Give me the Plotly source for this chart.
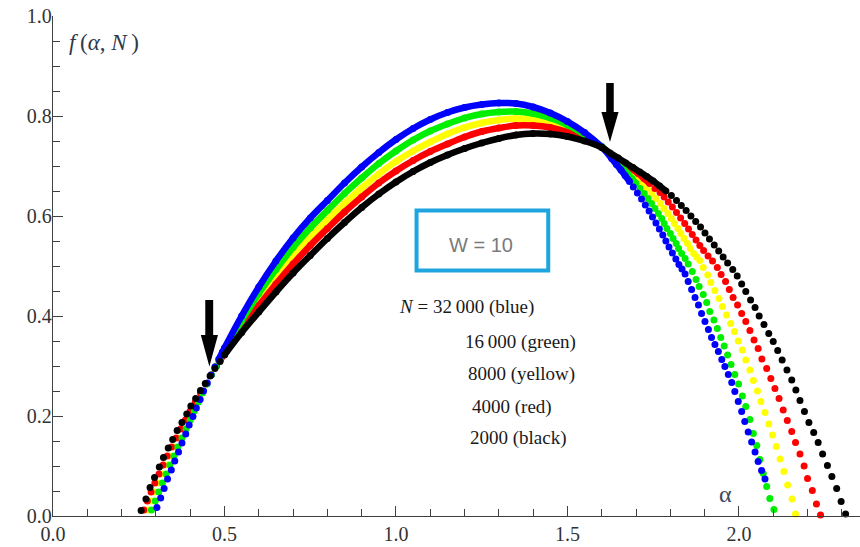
import plotly.graph_objects as go

# (alpha, f) points, one list per system size N
pts_black = [(0.257,0.011),(0.271,0.034),(0.283,0.057),(0.296,0.077),(0.310,0.098),(0.322,0.117),(0.336,0.136),(0.349,0.153),(0.362,0.171),(0.376,0.187),(0.390,0.204),(0.402,0.220),(0.416,0.235),(0.430,0.251),(0.444,0.265),(0.458,0.280),(0.472,0.295),(0.487,0.309),
    (0.50,0.322),(0.55,0.367),(0.60,0.408),(0.65,0.448),(0.70,0.486),(0.75,0.521),(0.80,0.555),(0.85,0.587),(0.90,0.617),(0.95,0.644),(1.00,0.668),(1.05,0.689),(1.10,0.707),(1.15,0.722),(1.20,0.735),(1.25,0.746),(1.30,0.755),(1.35,0.762),(1.40,0.765),(1.45,0.764),(1.50,0.759),(1.55,0.750),(1.60,0.737),
    (1.624,0.726),(1.648,0.716),(1.670,0.706),(1.691,0.697),(1.711,0.688),(1.731,0.679),(1.750,0.670),(1.769,0.660),(1.787,0.650),(1.803,0.641),(1.818,0.631),(1.832,0.621),(1.846,0.611),(1.860,0.600),(1.874,0.589),(1.888,0.578),(1.901,0.566),(1.914,0.554),(1.928,0.542),(1.941,0.530),(1.954,0.518),(1.967,0.506),(1.982,0.493),(1.995,0.480),(2.008,0.464),(2.020,0.449),(2.034,0.432),(2.047,0.417),(2.059,0.400),(2.073,0.383),(2.087,0.365),(2.100,0.349),(2.113,0.331),(2.126,0.312),(2.140,0.292),(2.154,0.272),(2.166,0.252),(2.178,0.231),(2.191,0.209),(2.204,0.187),(2.218,0.167),(2.231,0.147),(2.244,0.124),(2.258,0.101),(2.271,0.079),(2.285,0.055),(2.298,0.029),(2.311,0.004)]

pts_red = [(0.265,0.012),(0.275,0.030),(0.286,0.048),(0.297,0.066),(0.309,0.084),(0.321,0.102),(0.333,0.120),(0.346,0.138),(0.359,0.156),(0.372,0.174),(0.386,0.192),(0.400,0.210),(0.415,0.228),(0.430,0.246),(0.446,0.264),(0.461,0.282),(0.477,0.300),(0.489,0.313),
    (0.50,0.326),(0.55,0.376),(0.60,0.421),(0.65,0.464),(0.70,0.504),(0.75,0.541),(0.80,0.575),(0.85,0.608),(0.90,0.638),(0.95,0.666),(1.00,0.690),(1.05,0.711),(1.10,0.729),(1.15,0.744),(1.20,0.758),(1.25,0.769),(1.30,0.776),(1.35,0.781),(1.40,0.781),(1.45,0.777),(1.50,0.768),(1.55,0.755),(1.60,0.738),
    (1.623,0.725),(1.642,0.715),(1.663,0.705),(1.685,0.695),(1.706,0.685),(1.723,0.675),(1.740,0.665),(1.755,0.655),(1.770,0.647),(1.782,0.638),(1.794,0.628),(1.806,0.618),(1.818,0.607),(1.830,0.596),(1.842,0.585),(1.853,0.574),(1.864,0.563),(1.875,0.552),(1.886,0.541),(1.897,0.531),(1.910,0.520),(1.923,0.510),(1.937,0.497),(1.948,0.483),(1.961,0.469),(1.972,0.453),(1.983,0.437),(1.996,0.422),(2.008,0.405),(2.020,0.389),(2.032,0.371),(2.044,0.352),(2.056,0.335),(2.067,0.314),(2.081,0.295),(2.093,0.275),(2.105,0.255),(2.117,0.235),(2.129,0.212),(2.141,0.191),(2.154,0.169),(2.165,0.147),(2.178,0.124),(2.190,0.100),(2.200,0.075),(2.214,0.051),(2.226,0.024),(2.238,0.002)]

pts_yellow = [(0.276,0.012),(0.286,0.030),(0.296,0.048),(0.307,0.066),(0.318,0.084),(0.330,0.102),(0.341,0.120),(0.353,0.138),(0.366,0.156),(0.378,0.174),(0.391,0.192),(0.404,0.210),(0.418,0.228),(0.432,0.246),(0.446,0.264),(0.461,0.282),(0.475,0.299),(0.488,0.314),
    (0.50,0.329),(0.55,0.383),(0.60,0.432),(0.65,0.478),(0.70,0.520),(0.75,0.557),(0.80,0.592),(0.85,0.625),(0.90,0.656),(0.95,0.684),(1.00,0.709),(1.05,0.730),(1.10,0.748),(1.15,0.764),(1.20,0.777),(1.25,0.786),(1.30,0.792),(1.35,0.795),(1.40,0.793),(1.45,0.786),(1.50,0.775),(1.55,0.759),(1.60,0.739),
    (1.622,0.725),(1.637,0.715),(1.654,0.705),(1.673,0.695),(1.690,0.685),(1.705,0.675),(1.720,0.665),(1.733,0.655),(1.746,0.645),(1.758,0.635),(1.771,0.625),(1.781,0.615),(1.793,0.605),(1.803,0.595),(1.812,0.585),(1.822,0.575),(1.831,0.565),(1.840,0.555),(1.850,0.545),(1.858,0.535),(1.868,0.525),(1.877,0.518),(1.886,0.511),(1.896,0.497),(1.909,0.482),(1.918,0.467),(1.930,0.451),(1.942,0.435),(1.952,0.419),(1.964,0.402),(1.976,0.385),(1.987,0.369),(1.998,0.350),(2.010,0.332),(2.020,0.312),(2.032,0.292),(2.042,0.271),(2.054,0.250),(2.064,0.229),(2.076,0.207),(2.087,0.184),(2.098,0.162),(2.109,0.139),(2.120,0.114),(2.131,0.089),(2.142,0.062),(2.155,0.034),(2.165,0.004)]

pts_green = [(0.287,0.012),(0.298,0.030),(0.308,0.048),(0.319,0.066),(0.330,0.084),(0.341,0.102),(0.353,0.120),(0.364,0.138),(0.376,0.156),(0.388,0.174),(0.400,0.192),(0.412,0.210),(0.424,0.228),(0.436,0.246),(0.449,0.264),(0.462,0.282),(0.475,0.299),(0.488,0.316),
    (0.50,0.332),(0.55,0.391),(0.60,0.445),(0.65,0.493),(0.70,0.537),(0.75,0.576),(0.80,0.611),(0.85,0.645),(0.90,0.676),(0.95,0.705),(1.00,0.730),(1.05,0.752),(1.10,0.770),(1.15,0.784),(1.20,0.796),(1.25,0.804),(1.30,0.808),(1.35,0.809),(1.40,0.805),(1.45,0.796),(1.50,0.782),(1.55,0.763),(1.60,0.739),
    (1.621,0.725),(1.632,0.715),(1.646,0.705),(1.662,0.695),(1.675,0.685),(1.688,0.675),(1.700,0.665),(1.712,0.655),(1.724,0.645),(1.735,0.635),(1.745,0.625),(1.755,0.615),(1.765,0.605),(1.775,0.595),(1.782,0.585),(1.790,0.575),(1.800,0.565),(1.808,0.555),(1.817,0.545),(1.824,0.535),(1.833,0.525),(1.843,0.515),(1.852,0.504),(1.864,0.489),(1.875,0.473),(1.884,0.459),(1.896,0.443),(1.906,0.427),(1.915,0.409),(1.927,0.392),(1.937,0.375),(1.947,0.357),(1.957,0.340),(1.967,0.322),(1.977,0.303),(1.988,0.283),(1.999,0.264),(2.010,0.240),(2.020,0.219),(2.032,0.193),(2.042,0.165),(2.052,0.141),(2.061,0.113),(2.071,0.085),(2.081,0.059),(2.090,0.035),(2.102,0.013)]

pts_blue = [(0.303,0.017),(0.314,0.036),(0.324,0.055),(0.334,0.074),(0.345,0.092),(0.355,0.110),(0.366,0.128),(0.376,0.146),(0.387,0.164),(0.397,0.182),(0.408,0.199),(0.418,0.216),(0.429,0.233),(0.439,0.250),(0.450,0.266),(0.461,0.282),(0.472,0.298),(0.483,0.313),(0.494,0.328),
    (0.50,0.336),(0.55,0.400),(0.60,0.458),(0.65,0.510),(0.70,0.556),(0.75,0.596),(0.80,0.631),(0.85,0.666),(0.90,0.698),(0.95,0.727),(1.00,0.753),(1.05,0.775),(1.10,0.793),(1.15,0.807),(1.20,0.817),(1.25,0.823),(1.30,0.826),(1.35,0.825),(1.40,0.818),(1.45,0.806),(1.50,0.789),(1.55,0.767),(1.60,0.738),
    (1.629,0.715),(1.643,0.703),(1.656,0.692),(1.668,0.681),(1.681,0.669),(1.692,0.658),(1.704,0.646),(1.716,0.634),(1.727,0.622),(1.738,0.610),(1.748,0.598),(1.758,0.586),(1.768,0.574),(1.778,0.562),(1.787,0.550),(1.796,0.538),(1.806,0.526),(1.816,0.514),(1.825,0.503),(1.834,0.494),(1.843,0.484),(1.852,0.469),(1.862,0.453),(1.872,0.437),(1.882,0.422),(1.891,0.405),(1.901,0.389),(1.911,0.373),(1.920,0.357),(1.930,0.343),(1.940,0.329),(1.950,0.313),(1.959,0.299),(1.969,0.283),(1.979,0.267),(1.988,0.249),(1.998,0.229),(2.008,0.209),(2.017,0.189),(2.027,0.168),(2.037,0.148),(2.047,0.128),(2.056,0.109),(2.066,0.091),(2.076,0.074)]

x_tick_vals = [0.0, 0.5, 1.0, 1.5, 2.0]
x_tick_text = ["0.0", "0.5", "1.0", "1.5", "2.0"]
y_tick_vals = [0.0, 0.2, 0.4, 0.6, 0.8, 1.0]
y_tick_text = ["0.0", "0.2", "0.4", "0.6", "0.8", "1.0"]

# name, colour, points, alpha range drawn as a continuous band (dense dots there)
series = [
    ("yellow", "#ffff00", pts_yellow, 0.48, 1.73),
    ("red", "#ff0000", pts_red, 0.48, 1.75),
    ("green", "#00ee00", pts_green, 0.48, 1.71),
    ("blue", "#0000ff", pts_blue, 0.48, 1.69),
    ("black", "#000000", pts_black, 0.49, 1.79),
]

DOT = 7

fig = go.Figure()
for name, col, pts, lo, hi in series:
    xs = [p[0] for p in pts]
    ys = [p[1] for p in pts]
    mx = [a for a in xs if lo <= a <= hi]
    my = [b for a, b in zip(xs, ys) if lo <= a <= hi]
    fig.add_trace(go.Scatter(x=mx, y=my, mode="lines", line=dict(color=col, width=DOT - 0.5, shape="spline"),
                             showlegend=False, hoverinfo="skip", cliponaxis=False))
    fig.add_trace(go.Scatter(x=xs, y=ys, mode="markers", marker=dict(color=col, size=DOT, line=dict(width=0)),
                             showlegend=False, cliponaxis=False, name=name))

serif = "Liberation Serif"
axis_col = "#404040"

fig.update_layout(
    width=860, height=547,
    margin=dict(l=53, r=0, t=16, b=31),
    paper_bgcolor="white", plot_bgcolor="white",
    xaxis=dict(range=[0, 2.353], showgrid=False, zeroline=False, showline=True, linecolor=axis_col, linewidth=1.3,
               ticks="inside", ticklen=10, tickwidth=1.2, tickcolor=axis_col,
               tickvals=x_tick_vals, ticktext=x_tick_text,
               tickfont=dict(family=serif, size=20, color="#333333"),
               minor=dict(ticks="inside", ticklen=7, tickwidth=1.1, tickcolor=axis_col, dtick=0.1, tick0=0, showgrid=False)),
    yaxis=dict(range=[0, 1.0], showgrid=False, zeroline=False, showline=True, linecolor=axis_col, linewidth=1.3,
               ticks="inside", ticklen=10, tickwidth=1.2, tickcolor=axis_col,
               tickvals=y_tick_vals, ticktext=y_tick_text, ticklabelstandoff=-4,
               tickfont=dict(family=serif, size=20, color="#333333"),
               minor=dict(ticks="inside", ticklen=7, tickwidth=1.1, tickcolor=axis_col, dtick=0.05, tick0=0, showgrid=False)),
)

# box around W = 10
fig.add_shape(type="rect", xref="x", yref="y", x0=1.060, x1=1.444, y0=0.491, y1=0.611,
              line=dict(color="#1ea5e0", width=4), fillcolor="rgba(0,0,0,0)")

# arrows
fig.add_shape(type="path", xref="x", yref="y",
              path="M 0.444,0.432 L 0.467,0.432 L 0.467,0.362 L 0.481,0.362 L 0.456,0.299 L 0.431,0.362 L 0.444,0.362 Z",
              fillcolor="black", line=dict(width=0))
fig.add_shape(type="path", xref="x", yref="y",
              path="M 1.613,0.866 L 1.635,0.866 L 1.635,0.808 L 1.649,0.808 L 1.624,0.748 L 1.599,0.808 L 1.613,0.808 Z",
              fillcolor="black", line=dict(width=0))

ann = [
    dict(x=0.041, y=0.948, text="<i>f</i>\u2009(<i>α</i>, <i>N</i>\u2009)", xanchor="left", yanchor="middle",
         font=dict(family=serif, size=23, color="#2f3a4a")),
    dict(x=1.962, y=0.044, text="α", xanchor="center", yanchor="middle",
         font=dict(family=serif, size=24, color="#3a4a60")),
    dict(x=1.248, y=0.542, text="W = 10", xanchor="center", yanchor="middle",
         font=dict(family="Liberation Sans", size=20, color="#7a7a7a")),
    dict(x=1.003, y=0.418, text="<i>N</i> = 32\u2009000 (blue)", xanchor="left", yanchor="middle",
         font=dict(family=serif, size=19, color="#1a1a1a")),
    dict(x=1.195, y=0.348, text="16\u2009000 (green)", xanchor="left", yanchor="middle",
         font=dict(family=serif, size=19, color="#1a1a1a")),
    dict(x=1.204, y=0.284, text="8000 (yellow)", xanchor="left", yanchor="middle",
         font=dict(family=serif, size=19, color="#1a1a1a")),
    dict(x=1.216, y=0.218, text="4000 (red)", xanchor="left", yanchor="middle",
         font=dict(family=serif, size=19, color="#1a1a1a")),
    dict(x=1.210, y=0.156, text="2000 (black)", xanchor="left", yanchor="middle",
         font=dict(family=serif, size=19, color="#1a1a1a")),
]
for a in ann:
    fig.add_annotation(xref="x", yref="y", showarrow=False, **a)

fig.write_html("out.html")
